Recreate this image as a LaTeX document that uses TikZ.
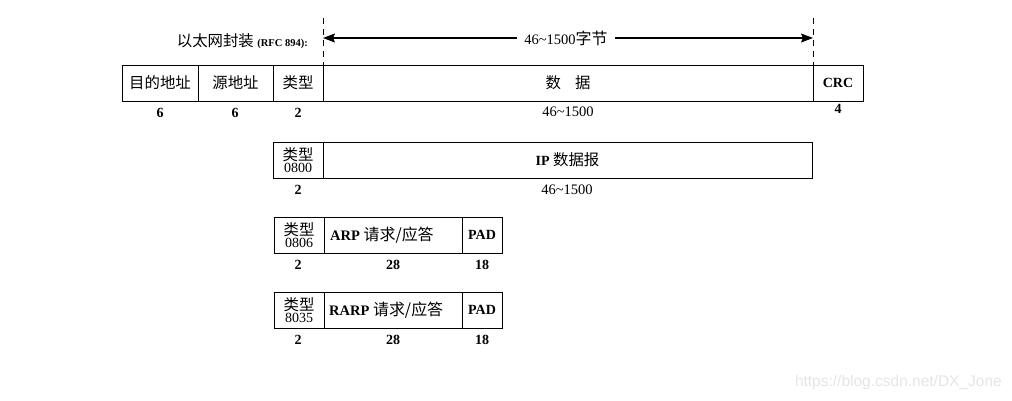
\documentclass[tikz,border=0pt]{standalone}
\usepackage{fontspec}
\setmainfont{Liberation Serif}
\newfontfamily\cjk[Scale=1.1]{Noto Sans CJK SC}
\newfontfamily\wmfont{Liberation Sans}
\usetikzlibrary{arrows.meta}
\newcommand{\tld}{\textasciitilde}
\begin{document}
\begin{tikzpicture}[x=1pt,y=-1pt,
  field/.style={draw, line width=1pt, inner sep=0pt, outer sep=0pt, anchor=north west,
    minimum height=36pt, font=\fontsize{14}{16}\selectfont},
  stack/.style={field, align=center, font=\fontsize{14}{12.5}\selectfont},
  cnt/.style={inner sep=0pt, font=\bfseries\fontsize{14}{15}\selectfont},
  len/.style={inner sep=0pt, font=\fontsize{14.5}{15}\selectfont},
  inlbl/.style={anchor=west, inner sep=0pt, font=\fontsize{14.5}{16}\selectfont},
  dashline/.style={line width=1pt, dash pattern=on 6pt off 5pt},
  spanarrow/.style={line width=1.2pt, -{Stealth[length=12pt,width=9pt,inset=2pt]}},
]
\useasboundingbox (0,0) rectangle (1012,400);

% header
\node[anchor=east, inner sep=0pt, font=\fontsize{14}{16}\selectfont] (enc) at (308,41)
  {{\cjk 以太网封装} {\bfseries\fontsize{10.5}{12}\selectfont (RFC 894):}};

% row 1: Ethernet frame
\node[field, minimum width=76pt]  (dst)  at (122,65) {\cjk 目的地址};
\node[field, minimum width=75pt]  (src)  at (198,65) {\cjk 源地址};
\node[field, minimum width=50pt]  (typ)  at (273,65) {\cjk 类型};
\node[field, minimum width=490pt] (data) at (323,65) {\cjk 数\hspace{14pt}据};
\node[field, minimum width=50pt]  (crc)  at (813,65) {\bfseries CRC};

\node[cnt] (n11) at (160,113) {6};
\node[cnt] (n12) at (235,113) {6};
\node[cnt] (n13) at (298,113) {2};
\node[len] (n14) at (568,112) {46\tld1500};
\node[cnt] (n15) at (838,109) {4};

% span arrow and dashed limits
\coordinate (dl) at (323,18);
\coordinate (dr) at (813,18);
\draw[dashline] (dl) -- (data.north west);
\draw[dashline] (dr) -- (data.north east);
\node[len, inner xsep=7pt, inner ysep=2pt, fill=white] (span) at (566,38) {46\tld1500{\cjk 字节}};
\coordinate (al) at (323,38);
\coordinate (ar) at (813,38);
\draw[spanarrow] (span) -- (al);
\draw[spanarrow] (span) -- (ar);

% row 2: IP datagram
\node[stack, minimum width=50pt]  (t2) at (273,142) {{\cjk 类型}\\0800};
\node[field, minimum width=489pt] (ip) at (323,142) {\textbf{IP} {\cjk 数据报}};
\node[cnt] (n21) at (298,190) {2};
\node[len] (n22) at (567,190) {46\tld1500};

% row 3: ARP
\node[stack, minimum width=50pt]  (t3)   at (274,217) {{\cjk 类型}\\0806};
\node[field, minimum width=138pt] (arp)  at (324,217) {};
\node[inlbl] (arpl) at ([xshift=6pt]arp.west) {\textbf{ARP} {\cjk 请求/应答}};
\node[field, minimum width=40pt]  (pad3) at (462,217) {\bfseries PAD};
\node[cnt] (n31) at (298,265) {2};
\node[cnt] (n32) at (393,265) {28};
\node[cnt] (n33) at (482,265) {18};

% row 4: RARP
\node[stack, minimum width=50pt]  (t4)   at (274,292) {{\cjk 类型}\\8035};
\node[field, minimum width=138pt] (rarp) at (324,292) {};
\node[inlbl] (rarpl) at ([xshift=5pt]rarp.west) {\textbf{RARP} {\cjk 请求/应答}};
\node[field, minimum width=40pt]  (pad4) at (462,292) {\bfseries PAD};
\node[cnt] (n41) at (298,340) {2};
\node[cnt] (n42) at (393,340) {28};
\node[cnt] (n43) at (482,340) {18};

% watermark
\node[anchor=east, inner sep=0pt, text=black!10, font=\wmfont\fontsize{15.5}{16}\selectfont] (wm)
  at (1002,382) {https://blog.csdn.net/DX\_Jone};
\end{tikzpicture}
\end{document}
